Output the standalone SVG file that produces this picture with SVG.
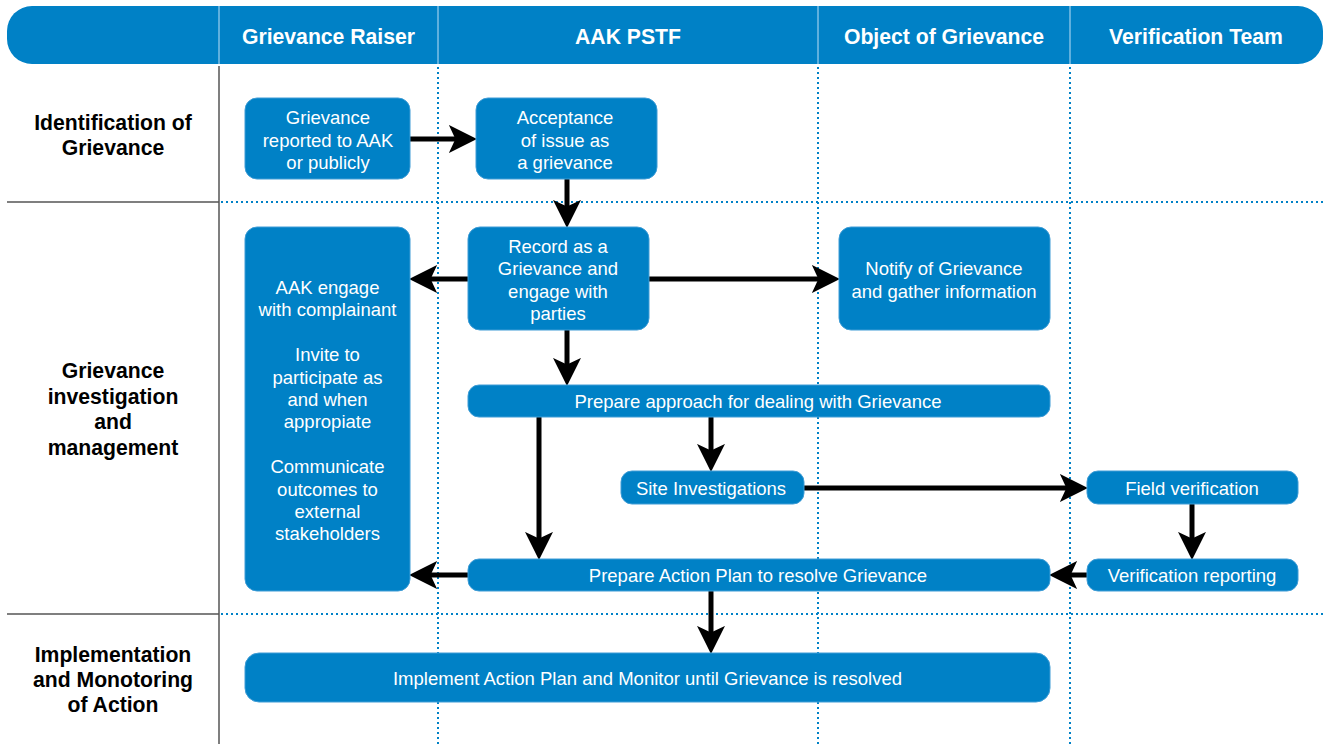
<svg xmlns="http://www.w3.org/2000/svg" width="1324" height="744" viewBox="0 0 1324 744">
  <defs>
    <style>
      .hdr{fill:#0081C6}
      .hdrtxt{font-family:"Liberation Sans",Arial,sans-serif;font-weight:bold;font-size:21.2px;fill:#ffffff;text-anchor:middle}
      .row{font-family:"Liberation Sans",Arial,sans-serif;font-weight:bold;font-size:21.2px;fill:#000000;text-anchor:middle}
      .node rect{fill:#0081C6;stroke:#3e9cd6;stroke-width:1}
      .node text{font-family:"Liberation Sans",Arial,sans-serif;font-size:18.5px;fill:#ffffff;text-anchor:middle}
      .solid{stroke:#555555;stroke-width:1.5;fill:none}
      .dot{stroke:#0081C6;stroke-width:2;stroke-dasharray:2 3;fill:none}
      .div{stroke:#9fd0ef;stroke-width:1.2}
      #connectors line{stroke:#000000;stroke-width:5;fill:none;marker-end:url(#arr)}
    </style>
    <marker id="arr" markerUnits="userSpaceOnUse" markerWidth="28" markerHeight="28" viewBox="0 0 26 26" refX="14" refY="13" orient="auto">
      <path d="M0,0 L26,13 L0,26 L6,13 Z" fill="#000000"/>
    </marker>
  </defs>
  <rect width="1324" height="744" fill="#ffffff"/>

  <!-- grid lines -->
  <g id="grid">
    <line class="dot" x1="221" y1="202" x2="1324" y2="202"/>
    <line class="dot" x1="221" y1="614" x2="1324" y2="614"/>
    <line class="dot" x1="438" y1="67" x2="438" y2="744"/>
    <line class="dot" x1="818" y1="67" x2="818" y2="744"/>
    <line class="dot" x1="1070" y1="67" x2="1070" y2="744"/>
    <line class="solid" x1="219" y1="66" x2="219" y2="744"/>
    <line class="solid" x1="7" y1="202" x2="219" y2="202"/>
    <line class="solid" x1="7" y1="614" x2="219" y2="614"/>
  </g>

  <!-- header -->
  <g id="header">
    <rect class="hdr" x="7" y="6" width="1316" height="58" rx="25" ry="25"/>
    <line class="div" x1="219" y1="6" x2="219" y2="64"/>
    <line class="div" x1="438" y1="6" x2="438" y2="64"/>
    <line class="div" x1="818" y1="6" x2="818" y2="64"/>
    <line class="div" x1="1070" y1="6" x2="1070" y2="64"/>
    <text class="hdrtxt" x="328.5" y="44">Grievance Raiser</text>
    <text class="hdrtxt" x="628" y="44">AAK PSTF</text>
    <text class="hdrtxt" x="944" y="44">Object of Grievance</text>
    <text class="hdrtxt" x="1196" y="44">Verification Team</text>
  </g>

  <!-- row labels -->
  <g id="rows">
    <text class="row" x="113" y="129.5">Identification of</text>
    <text class="row" x="113" y="155">Grievance</text>
    <text class="row" x="113" y="378">Grievance</text>
    <text class="row" x="113" y="403.5">investigation</text>
    <text class="row" x="113" y="429">and</text>
    <text class="row" x="113" y="454.5">management</text>
    <text class="row" x="113" y="662">Implementation</text>
    <text class="row" x="113" y="687">and Monotoring</text>
    <text class="row" x="113" y="712">of Action</text>
  </g>

  <!-- connectors -->
  <g id="connectors">
    <line x1="410" y1="139" x2="464" y2="139"/>
    <line x1="567" y1="179" x2="567" y2="215"/>
    <line x1="468" y1="279" x2="422" y2="279"/>
    <line x1="649" y1="279" x2="827" y2="279"/>
    <line x1="567" y1="330" x2="567" y2="373"/>
    <line x1="539" y1="417" x2="539" y2="547"/>
    <line x1="711" y1="417" x2="711" y2="459"/>
    <line x1="804" y1="488" x2="1075" y2="488"/>
    <line x1="1192" y1="504" x2="1192" y2="547"/>
    <line x1="1087" y1="575" x2="1062" y2="575"/>
    <line x1="468" y1="575" x2="422" y2="575"/>
    <line x1="711" y1="591" x2="711" y2="641"/>
  </g>

  <!-- nodes -->
  <g id="n-reported" class="node">
    <rect x="245" y="98" width="165" height="81" rx="12"/>
    <text x="328" y="124">Grievance</text>
    <text x="328" y="146.5">reported to AAK</text>
    <text x="328" y="169">or publicly</text>
  </g>
  <g id="n-acceptance" class="node">
    <rect x="476" y="98" width="181" height="81" rx="12"/>
    <text x="565" y="124">Acceptance</text>
    <text x="565" y="146.5">of issue as</text>
    <text x="565" y="169">a grievance</text>
  </g>
  <g id="n-record" class="node">
    <rect x="468" y="227" width="181" height="103" rx="12"/>
    <text x="558" y="252.5">Record as a</text>
    <text x="558" y="275">Grievance and</text>
    <text x="558" y="297.5">engage with</text>
    <text x="558" y="320">parties</text>
  </g>
  <g id="n-notify" class="node">
    <rect x="839" y="227" width="211" height="103" rx="12"/>
    <text x="944" y="275">Notify of Grievance</text>
    <text x="944" y="297.5">and gather information</text>
  </g>
  <g id="n-engage" class="node">
    <rect x="245" y="227" width="165" height="364" rx="12"/>
    <text x="327.5" y="294">AAK engage</text>
    <text x="327.5" y="316.4">with complainant</text>
    <text x="327.5" y="361.2">Invite to</text>
    <text x="327.5" y="383.6">participate as</text>
    <text x="327.5" y="406">and when</text>
    <text x="327.5" y="428.4">appropiate</text>
    <text x="327.5" y="473.2">Communicate</text>
    <text x="327.5" y="495.6">outcomes to</text>
    <text x="327.5" y="518">external</text>
    <text x="327.5" y="540.4">stakeholders</text>
  </g>
  <g id="n-approach" class="node">
    <rect x="468" y="385" width="582" height="32" rx="11"/>
    <text x="758" y="407.5">Prepare approach for dealing with Grievance</text>
  </g>
  <g id="n-site" class="node">
    <rect x="621" y="471" width="183" height="33" rx="11"/>
    <text x="711" y="494.5">Site Investigations</text>
  </g>
  <g id="n-field" class="node">
    <rect x="1087" y="471" width="211" height="33" rx="11"/>
    <text x="1192" y="494.5">Field verification</text>
  </g>
  <g id="n-verreport" class="node">
    <rect x="1087" y="559" width="211" height="32" rx="11"/>
    <text x="1192" y="581.5">Verification reporting</text>
  </g>
  <g id="n-actionplan" class="node">
    <rect x="468" y="559" width="582" height="32" rx="11"/>
    <text x="758" y="581.5">Prepare Action Plan to resolve Grievance</text>
  </g>
  <g id="n-implement" class="node">
    <rect x="245" y="653" width="805" height="49" rx="14"/>
    <text x="647.5" y="684.5">Implement Action Plan and Monitor until Grievance is resolved</text>
  </g>
</svg>
